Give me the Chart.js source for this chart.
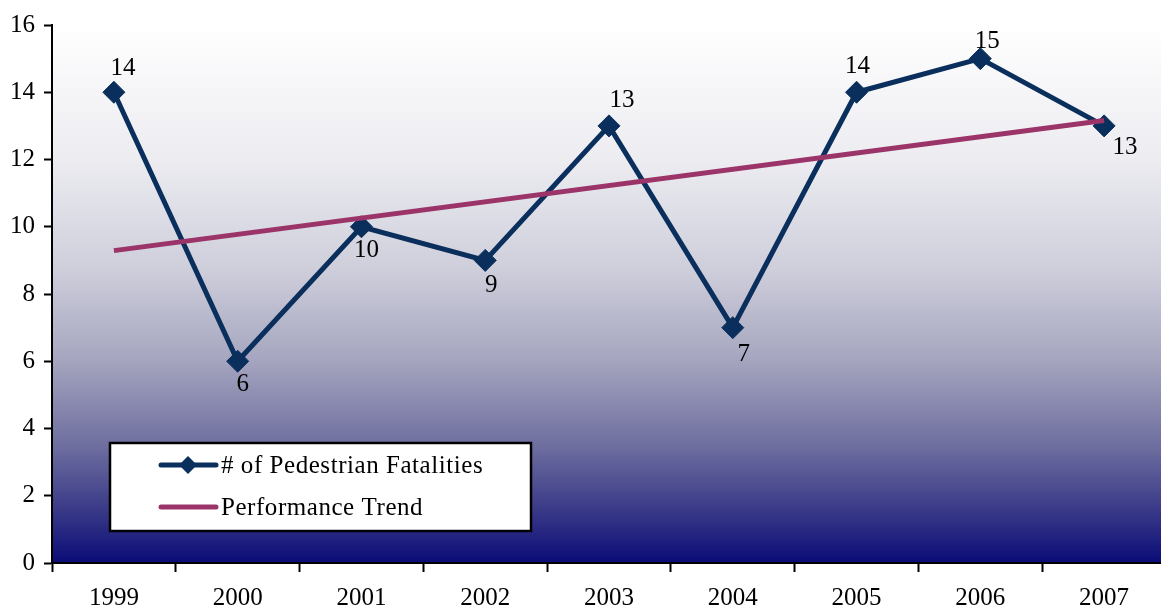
<!DOCTYPE html>
<html>
<head>
<meta charset="utf-8">
<script src="https://cdn.jsdelivr.net/npm/chart.js@4/dist/chart.umd.min.js"></script>
<style>
  html, body { margin: 0; padding: 0; background: #ffffff; overflow: hidden; }
  #wrap { width: 1178px; height: 612px; }
</style>
</head>
<body>
<div id="wrap"><canvas id="c" width="1178" height="612"></canvas></div>
<script>
// Yearly counts
const years = ['1999', '2000', '2001', '2002', '2003', '2004', '2005', '2006', '2007'];
const fatalities = [14, 6, 10, 9, 13, 7, 14, 15, 13];
// Trend line end points (first and last year)
const trend = [9.29, null, null, null, null, null, null, null, 13.16];
const yTicks = [0, 2, 4, 6, 8, 10, 12, 14, 16];

const FONT = '"Liberation Serif", "DejaVu Serif", serif';
const NAVY = '#0a2f5c';
const PLUM = '#9b3468';

// Offset of each value label's centre from its marker
const labelDx = [9, 5, 5, 6, 13, 11, 1, 7, 21];
const labelDy = [-24, 23, 24, 25, -25, 27, -26, -17, 22];

const backdrop = {
  id: 'backdrop',
  beforeDraw(chart) {
    const { ctx, chartArea: a } = chart;
    const g = ctx.createLinearGradient(0, a.top, 0, a.bottom);
    g.addColorStop(0.0, '#ffffff');
    g.addColorStop(0.25, '#ececf1');
    g.addColorStop(0.45, '#cfcfdc');
    g.addColorStop(0.62, '#a6a6c0');
    g.addColorStop(0.78, '#6f6fa0');
    g.addColorStop(0.9, '#3a3a88');
    g.addColorStop(1.0, '#0b0b78');
    ctx.save();
    ctx.fillStyle = g;
    ctx.fillRect(a.left, a.top, a.right - a.left, a.bottom - a.top);
    ctx.restore();
  }
};

const valueLabels = {
  id: 'valueLabels',
  afterDatasetsDraw(chart) {
    const { ctx } = chart;
    const meta = chart.getDatasetMeta(0);
    ctx.save();
    ctx.font = '25px ' + FONT;
    ctx.fillStyle = '#000000';
    ctx.textAlign = 'center';
    ctx.textBaseline = 'middle';
    meta.data.forEach((pt, i) => {
      ctx.fillText(String(fatalities[i]), pt.x + labelDx[i], pt.y + labelDy[i]);
    });
    ctx.restore();
  }
};

const boxLegend = {
  id: 'boxLegend',
  afterDraw(chart) {
    const { ctx } = chart;
    const x0 = 110, y0 = 443, w = 421, h = 88;
    ctx.save();
    ctx.fillStyle = '#ffffff';
    ctx.fillRect(x0, y0, w, h);
    ctx.strokeStyle = '#000000';
    ctx.lineWidth = 2.5;
    ctx.strokeRect(x0, y0, w, h);
    const rows = [chart.data.datasets[0], chart.data.datasets[1]];
    rows.forEach((ds, i) => {
      const y = y0 + 22 + i * 42;
      ctx.strokeStyle = ds.borderColor;
      ctx.lineWidth = 5;
      ctx.lineCap = 'round';
      ctx.beginPath();
      ctx.moveTo(161, y);
      ctx.lineTo(216, y);
      ctx.stroke();
      if (ds.pointStyle === 'rectRot') {
        ctx.fillStyle = ds.pointBackgroundColor;
        const r = 9;
        ctx.beginPath();
        ctx.moveTo(188, y - r);
        ctx.lineTo(188 + r, y);
        ctx.lineTo(188, y + r);
        ctx.lineTo(188 - r, y);
        ctx.closePath();
        ctx.fill();
      }
      ctx.fillStyle = '#000000';
      ctx.font = '25px ' + FONT;
      ctx.letterSpacing = '0.55px';
      ctx.textAlign = 'left';
      ctx.textBaseline = 'middle';
      ctx.fillText(ds.label, 221, y + 1);
      ctx.letterSpacing = '0px';
    });
    ctx.restore();
  }
};

new Chart(document.getElementById('c'), {
  type: 'line',
  data: {
    labels: years,
    datasets: [
      {
        label: '# of Pedestrian Fatalities',
        data: fatalities,
        borderColor: NAVY,
        backgroundColor: NAVY,
        pointBackgroundColor: NAVY,
        pointBorderColor: NAVY,
        borderWidth: 5,
        pointStyle: 'rectRot',
        pointRadius: 11,
        pointBorderWidth: 1,
        tension: 0,
        order: 1
      },
      {
        label: 'Performance Trend',
        data: trend,
        borderColor: PLUM,
        backgroundColor: PLUM,
        borderWidth: 5,
        pointRadius: 0,
        spanGaps: true,
        tension: 0,
        order: 0
      }
    ]
  },
  options: {
    responsive: false,
    animation: false,
    layout: { padding: { top: 25, right: 2, left: 0, bottom: 0 } },
    plugins: {
      legend: { display: false },
      tooltip: { enabled: false }
    },
    scales: {
      x: {
        offset: true,
        grid: {
          offset: true,
          drawOnChartArea: false,
          drawTicks: true,
          tickLength: 9,
          tickColor: '#000000',
          tickWidth: 2
        },
        border: { display: true, color: '#000000', width: 2 },
        ticks: {
          color: '#000000',
          font: { family: FONT, size: 25 },
          padding: 11,
          maxRotation: 0
        },
        afterFit(s) { s.height = 49; }
      },
      y: {
        min: 0,
        max: 16,
        afterBuildTicks(s) { s.ticks = yTicks.map(v => ({ value: v })); },
        grid: {
          drawOnChartArea: false,
          drawTicks: true,
          tickLength: 8,
          tickColor: '#000000',
          tickWidth: 2
        },
        border: { display: true, color: '#000000', width: 2 },
        ticks: {
          color: '#000000',
          font: { family: FONT, size: 25 },
          padding: 9
        },
        afterFit(s) { s.width = 52; }
      }
    }
  },
  plugins: [backdrop, valueLabels, boxLegend]
});
</script>
</body>
</html>
